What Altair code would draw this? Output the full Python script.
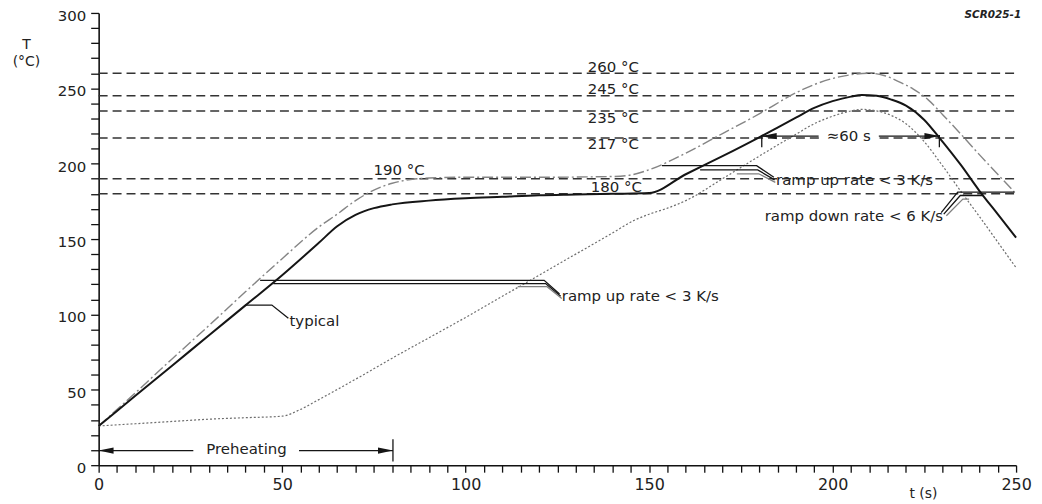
import altair as alt
import pandas as pd

FONT = "DejaVu Sans"
INK = "#151515"
TXT = "#222222"
GREY = "#808080"

# ---------------- curve data (t in s, T in degC) ----------------
typ_t = [0, 10, 20, 30, 40, 50, 60, 65, 70, 75, 80, 90, 100, 110, 120, 130, 140, 150,
         160, 170, 180, 185, 190, 195, 200, 205, 208, 212, 216, 220, 225, 229, 235, 240, 245, 250]
typ_T = [26, 46, 66, 86, 106, 126, 147.5, 158.5, 166, 170.5, 173, 175.5, 177, 178, 179, 179.5, 180, 180.5,
         193, 205, 217.5, 224, 230.5, 237, 241.5, 244.5, 245.5, 245, 242.5, 238.5, 229, 217.5, 199, 182, 166.5, 151]

max_t = [0, 10, 20, 30, 40, 50, 60, 65, 70, 75, 80, 85, 90, 100, 120, 140, 145, 150,
         160, 170, 180, 190, 195, 200, 205, 210, 214, 218, 222, 226, 230, 235, 240, 245, 250]
max_T = [26, 48, 70.5, 92.5, 115, 137, 158, 166.5, 175.5, 182.5, 187, 189.5, 190.5, 191, 191, 191.5, 192.5, 196,
         207, 220, 233, 247, 252.5, 256.5, 259, 260, 258.5, 254.5, 249.5, 242.5, 232.5, 219.5, 206, 193, 180]

min_t = [0, 10, 20, 30, 40, 50, 55, 60, 70, 80, 90, 100, 110, 120, 130, 140, 146, 150,
         155, 160, 170, 180, 190, 195, 200, 205, 208, 212, 216, 220, 225, 230, 235, 240, 245, 250]
min_T = [26, 27.5, 29, 30.5, 31.5, 32.5, 37, 43.5, 57, 71, 84.5, 98, 112, 126, 140, 154, 162.5, 166.5,
         170.5, 175.5, 190, 205, 219.5, 226.5, 231.5, 235, 236, 235, 232, 226.5, 214.5, 198.5, 181.5, 165, 148, 131]

# ---------------- reference levels ----------------
level_T = [260, 245, 235, 217, 190, 180]
level_text = ["260 °C", "245 °C", "235 °C", "217 °C", "190 °C", "180 °C"]
level_lab_t = [133.3, 133.3, 133.3, 133.3, 74.9, 134.1]
level_lab_T = [260.6, 246.3, 226.9, 209.9, 192.3, 181.3]

# ---------------- callout leader polylines ----------------
lead_id = (["typ"] * 3 + ["lo_a"] * 3 + ["lo_b"] * 3 + ["lo_c"] * 3 +
           ["up_a"] * 3 + ["up_b"] * 3 + ["up_c"] * 3 +
           ["dn_a"] * 3 + ["dn_b"] * 3 + ["dn_c"] * 3)
lead_t = [40.0, 47.2, 51.7,
          44.0, 121.4, 125.6,
          47.6, 121.8, 125.9,
          114.2, 122.2, 126.2,
          153.5, 179.3, 184.0,
          163.9, 179.6, 184.2,
          173.9, 179.9, 184.4,
          249.5, 234.1, 229.6,
          240.9, 234.8, 230.3,
          237.2, 235.5, 231.0]
lead_T = [106.2, 106.2, 97.4,
          122.6, 122.6, 113.5,
          120.5, 120.5, 112.0,
          118.4, 118.4, 110.5,
          198.7, 198.7, 191.0,
          195.9, 195.9, 189.3,
          193.3, 193.3, 187.6,
          181.1, 181.1, 167.5,
          178.9, 178.9, 166.5,
          176.5, 176.5, 165.5]

# ---------------- straight segments (preheating + 60 s span) ----------------
seg_t1 = [0.0, 54.6, 80.2, 180.7, 212.6, 180.7, 229.1]
seg_t2 = [25.8, 80.2, 80.2, 196.2, 229.1, 180.7, 229.1]
seg_T1 = [9.7, 9.7, 2.5, 218.3, 218.3, 210.9, 210.9]
seg_T2 = [9.7, 9.7, 17.2, 218.3, 218.3, 219.0, 219.0]

arrow_left_t = [0.0, 180.7]
arrow_left_T = [9.7, 218.3]
arrow_right_t = [80.2, 229.1]
arrow_right_T = [9.7, 218.3]

# ---------------- annotation texts ----------------
left_text = ["typical", "ramp up rate < 3 K/s", "ramp up rate < 3 K/s"]
left_t = [52.0, 126.2, 184.6]
left_T = [95.8, 111.9, 189.4]

center_text = ["Preheating", "≈60 s"]
center_t = [40.3, 204.4]
center_T = [10.6, 218.1]

right_text = ["ramp down rate < 6 K/s"]
right_t = [230.1]
right_T = [165.2]

# ---------------- build tables ----------------
curves = pd.concat([
    pd.DataFrame({"t": typ_t, "T": typ_T, "c": "typ"}),
    pd.DataFrame({"t": max_t, "T": max_T, "c": "max"}),
    pd.DataFrame({"t": min_t, "T": min_T, "c": "min"}),
], ignore_index=True)

levels = pd.DataFrame({"T": level_T, "t0": 0, "t1": 250})
level_labels = pd.DataFrame({"txt": level_text, "t": level_lab_t, "T": level_lab_T})
leads = pd.DataFrame({"id": lead_id, "t": lead_t, "T": lead_T})
leads["i"] = leads.groupby("id").cumcount()
leads["col"] = [GREY if s.endswith("_c") else INK for s in leads["id"]]
segs = pd.DataFrame({"t1": seg_t1, "t2": seg_t2, "T1": seg_T1, "T2": seg_T2})
arr_l = pd.DataFrame({"t": arrow_left_t, "T": arrow_left_T})
arr_r = pd.DataFrame({"t": arrow_right_t, "T": arrow_right_T})
txt_l = pd.DataFrame({"txt": left_text, "t": left_t, "T": left_T})
txt_c = pd.DataFrame({"txt": center_text, "t": center_t, "T": center_T})
txt_r = pd.DataFrame({"txt": right_text, "t": right_t, "T": right_T})
mask = pd.DataFrame({"t1": [196.3], "t2": [212.5], "T1": [213.0], "T2": [223.0]})
tag = pd.DataFrame({"txt": ["SCR025-1"], "t": [251.4], "T": [296.9]})

xs = alt.Scale(domain=[0, 250], nice=False, zero=False)
ys = alt.Scale(domain=[0, 300], nice=False, zero=False)

x_axis = alt.Axis(
    values=list(range(0, 251, 5)),
    labelExpr="datum.value % 50 === 0 ? datum.label : ''",
    title="t (s)", titleAngle=0, titleX=827.5, titleY=32,
    titleAlign="center", titleBaseline="alphabetic",
    tickSize=7, labelPadding=4, labelFlush=False, labelOverlap=False,
)
y_axis = alt.Axis(
    values=list(range(0, 301, 10)),
    labelExpr="datum.value % 50 === 0 ? datum.label : ''",
    title=["T", "(°C)"], titleAngle=0, titleX=-73, titleY=36,
    titleAlign="center", titleBaseline="alphabetic", titleLineHeight=17,
    tickSize=8, labelPadding=5, labelBaseline="alphabetic", labelOffset=7.5,
    labelFontSize=15, labelFlush=False, labelOverlap=False,
)


def X(field):
    return alt.X(field, scale=xs, axis=x_axis)


def Y(field):
    return alt.Y(field, scale=ys, axis=y_axis)


hl = alt.Chart(levels).mark_rule(color="#333333", strokeWidth=1.5, strokeDash=[9, 5]).encode(
    x=X("t0:Q"), x2="t1:Q", y=Y("T:Q"),
)

mask_l = alt.Chart(mask).mark_rect(color="white").encode(
    x=X("t1:Q"), x2="t2:Q", y=Y("T1:Q"), y2="T2:Q",
)


def curve(name, **kw):
    return alt.Chart(curves).transform_filter(alt.datum.c == name).mark_line(
        interpolate="monotone", **kw).encode(
        x=X("t:Q"), y=Y("T:Q"), order="t:Q",
    )


c_min = curve("min", color="#6e6e6e", strokeWidth=1.2, strokeDash=[2, 2])
c_max = curve("max", color="#858585", strokeWidth=1.4, strokeDash=[11, 3, 2, 3])
c_typ = curve("typ", color=INK, strokeWidth=2.0)

lead_l = alt.Chart(leads).mark_line(strokeWidth=1.3).encode(
    x=X("t:Q"), y=Y("T:Q"),
    detail="id:N",
    order="i:Q",
    color=alt.Color("col:N", scale=None),
)

seg_l = alt.Chart(segs).mark_rule(color=INK, strokeWidth=1.3).encode(
    x=X("t1:Q"), x2="t2:Q", y=Y("T1:Q"), y2="T2:Q",
)

arrL = alt.Chart(arr_l).mark_point(shape="M0,0L2,-0.42L2,0.42Z", filled=True, size=225,
                                   color=INK, opacity=1, strokeWidth=0).encode(
    x=X("t:Q"), y=Y("T:Q"))
arrR = alt.Chart(arr_r).mark_point(shape="M0,0L-2,-0.42L-2,0.42Z", filled=True, size=225,
                                   color=INK, opacity=1, strokeWidth=0).encode(
    x=X("t:Q"), y=Y("T:Q"))


def texts(df, align, baseline, size=15, **kw):
    return alt.Chart(df).mark_text(align=align, baseline=baseline, font=FONT, fontSize=size,
                                   color=TXT, **kw).encode(
        x=X("t:Q"), y=Y("T:Q"), text="txt:N",
    )


t_lev = texts(level_labels, "left", "alphabetic")
t_l = texts(txt_l, "left", "middle")
t_c = texts(txt_c, "center", "middle")
t_r = texts(txt_r, "right", "middle")
t_tag = texts(tag, "right", "alphabetic", size=10.5, fontStyle="italic", fontWeight="bold")

chart = alt.layer(
    hl, mask_l, c_min, c_max, c_typ, lead_l, seg_l, arrL, arrR,
    t_lev, t_l, t_c, t_r, t_tag,
).properties(
    width=921, height=454,
    padding={"left": 91, "top": 4, "right": 18, "bottom": 36},
    autosize=alt.AutoSizeParams(type="none"),
).configure_view(stroke=None).configure_axis(
    grid=False,
    domainColor="#111111", domainWidth=1.6,
    tickColor="#111111", tickWidth=1.3,
    labelFont=FONT, labelFontSize=16, labelColor=TXT,
    titleFont=FONT, titleFontSize=14, titleFontWeight="normal", titleColor=TXT,
)

chart.save("out.html", embed_options={"renderer": "svg", "actions": False})
